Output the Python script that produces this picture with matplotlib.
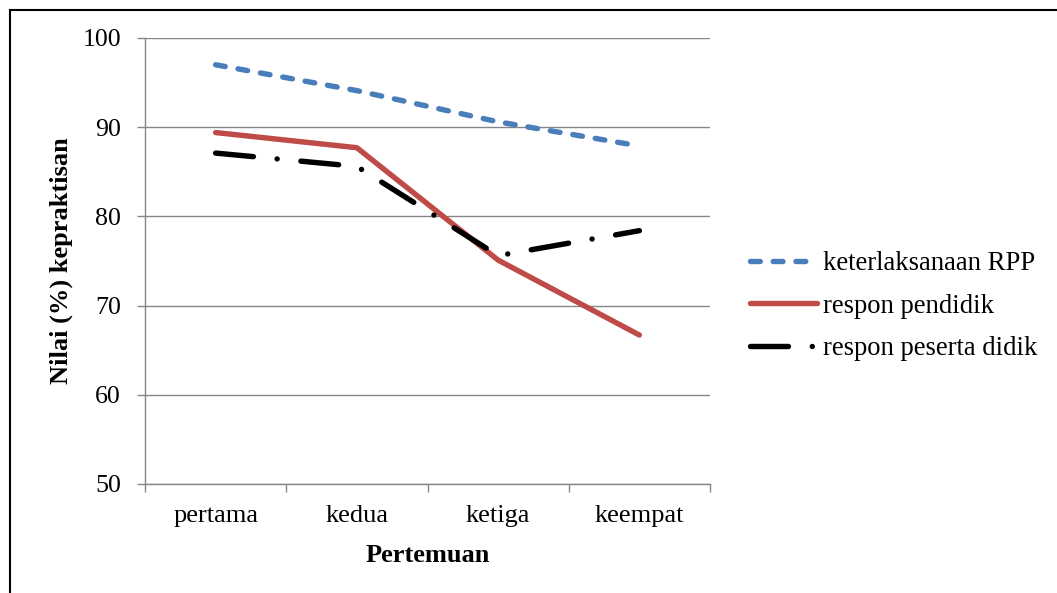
import matplotlib
matplotlib.use("Agg")
import matplotlib.pyplot as plt
from matplotlib.lines import Line2D
from matplotlib.ticker import FixedLocator, NullFormatter, FixedFormatter

categories = ["pertama", "kedua", "ketiga", "keempat"]
keterlaksanaan_rpp = [97.0, 94.1, 90.6, 87.9]
respon_pendidik = [89.4, 87.7, 75.1, 66.7]
respon_peserta_didik = [87.1, 85.6, 75.6, 78.4]
y_ticks = [50, 60, 70, 80, 90, 100]

plt.rcParams["font.family"] = ["Liberation Serif", "DejaVu Serif"]

W, H = 1057, 593
fig = plt.figure(figsize=(W / 100, H / 100), dpi=100)
ax = fig.add_axes([145 / W, 1 - 484 / H, (710 - 145) / W, (484 - 38) / H])

grid_c = "#868686"
x = list(range(len(categories)))
lw = 3.9

ax.plot(x, keterlaksanaan_rpp, color="#4A7EBB", lw=lw, dashes=(1.8, 2.4),
        dash_capstyle="round", solid_capstyle="round", label="keterlaksanaan RPP")
ax.plot(x, respon_pendidik, color="#BE4B48", lw=lw, solid_capstyle="round",
        solid_joinstyle="round", label="respon pendidik")
ax.plot(x, respon_peserta_didik, color="black", lw=lw, dashes=(7.0, 4.4, 0.01, 4.4),
        dash_capstyle="round", solid_capstyle="round", label="respon peserta didik")

ax.set_xlim(-0.5, len(categories) - 0.5)
ax.set_ylim(50, 100)
ax.set_yticks(y_ticks)
ax.yaxis.grid(True, color=grid_c, lw=1.0)
ax.set_axisbelow(True)

for s in ["top", "right"]:
    ax.spines[s].set_visible(False)
for s in ["left", "bottom"]:
    ax.spines[s].set_color(grid_c)
    ax.spines[s].set_linewidth(1.0)

ax.xaxis.set_major_locator(FixedLocator([i - 0.5 for i in range(len(categories) + 1)]))
ax.xaxis.set_major_formatter(NullFormatter())
ax.xaxis.set_minor_locator(FixedLocator(x))
ax.xaxis.set_minor_formatter(FixedFormatter(categories))
ax.tick_params(axis="x", which="major", length=5.8, width=1.0, color=grid_c, direction="out")
ax.tick_params(axis="x", which="minor", length=0, pad=15, labelsize=19)
ax.tick_params(axis="y", which="major", length=5.8, width=1.0, color=grid_c,
               direction="out", pad=11.5, labelsize=18.6)

fig.text(61 / W, 1 - 261 / H, "Nilai (%) kepraktisan", rotation=90, fontsize=19,
         fontweight="bold", ha="center", va="center")
fig.text(427.5 / W, 1 - 562 / H, "Pertemuan", fontsize=19, fontweight="bold",
         ha="center", va="baseline")

ax.legend(loc="center left", bbox_to_anchor=(750 / W, 1 - 306 / H),
          bbox_transform=fig.transFigure, frameon=False, fontsize=19.2,
          handlelength=2.5, handletextpad=0.25, labelspacing=0.65,
          borderpad=0, borderaxespad=0)

fig.add_artist(Line2D([10 / W, 1], [1 - 9.5 / H, 1 - 9.5 / H], transform=fig.transFigure,
                      color="black", lw=1.5))
fig.add_artist(Line2D([10 / W, 10 / W], [1 - 9.5 / H, 0], transform=fig.transFigure,
                      color="black", lw=1.5))

fig.savefig("out.png", dpi=100)
